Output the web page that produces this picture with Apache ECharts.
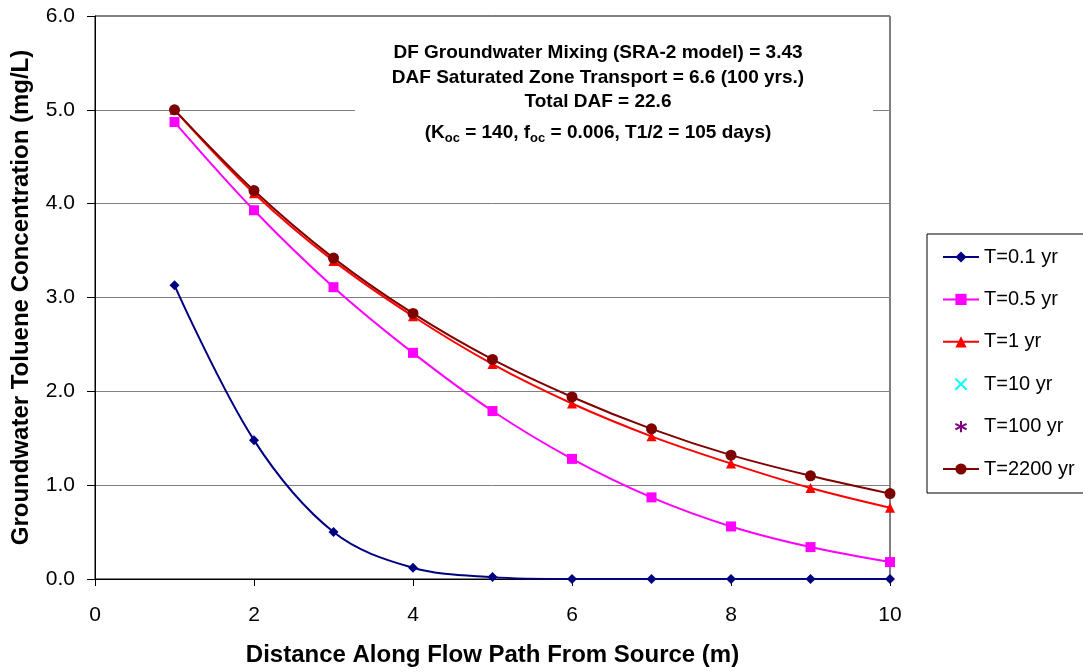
<!DOCTYPE html>
<html>
<head>
<meta charset="utf-8">
<script src="https://cdn.jsdelivr.net/npm/echarts@6/dist/echarts.min.js"></script>
<style>
  html, body { margin: 0; padding: 0; background: #fff; }
  #chart { width: 1083px; height: 672px; }
</style>
</head>
<body>
<div id="chart"></div>
<script>
// Distance along the flow path (m)
const distance = [1, 2, 3, 4, 5, 6, 7, 8, 9, 10];

// Groundwater toluene concentration (mg/L) at each distance, per elapsed time
const t0_1 = [3.13, 1.48, 0.50, 0.12, 0.02, 0.00, 0.00, 0.00, 0.00, 0.00];
const t0_5 = [4.87, 3.93, 3.11, 2.41, 1.79, 1.28, 0.87, 0.56, 0.34, 0.18];
const t1 = [5.00, 4.11, 3.39, 2.80, 2.29, 1.87, 1.52, 1.23, 0.97, 0.76];
const t10 = [5.00, 4.14, 3.42, 2.83, 2.34, 1.94, 1.60, 1.32, 1.10, 0.91];
const t100 = [5.00, 4.14, 3.42, 2.83, 2.34, 1.94, 1.60, 1.32, 1.10, 0.91];
const t2200 = [5.00, 4.14, 3.42, 2.83, 2.34, 1.94, 1.60, 1.32, 1.10, 0.91];

const seriesNames = ['T=0.1 yr', 'T=0.5 yr', 'T=1 yr', 'T=10 yr', 'T=100 yr', 'T=2200 yr'];

const notes = [
  'DF Groundwater Mixing (SRA-2 model) = 3.43',
  'DAF Saturated Zone Transport = 6.6 (100 yrs.)',
  'Total DAF = 22.6'
];

const FONT = '"Liberation Sans", Arial, sans-serif';

function pairs(vals) {
  return distance.map((d, i) => [d, vals[i]]);
}

const crossPath = 'path://M0,0L10,10M10,0L0,10';
const starPath = 'path://M5,0L5,10M0,2.5L10,7.5M10,2.5L0,7.5';

const chart = echarts.init(document.getElementById('chart'), null, { renderer: 'canvas' });

const noteFont = 'bold 19px ' + FONT;

const option = {
  animation: false,
  backgroundColor: '#ffffff',
  textStyle: { fontFamily: FONT },
  grid: {
    left: 95, top: 16, right: 193, bottom: 93,
    show: true, borderColor: '#000000', borderWidth: 1
  },
  legend: {
    orient: 'vertical',
    left: 927, top: 234,
    data: seriesNames,
    itemWidth: 36, itemHeight: 14,
    itemGap: 22.4,
    padding: [13, 80, 14, 15],
    borderColor: '#000000', borderWidth: 1,
    backgroundColor: '#ffffff',
    textStyle: { fontFamily: FONT, fontSize: 20, color: '#000000' }
  },
  xAxis: {
    type: 'value',
    min: 0, max: 10, interval: 2,
    name: 'Distance Along Flow Path From Source (m)',
    nameLocation: 'middle',
    nameGap: 64,
    nameTextStyle: { fontFamily: FONT, fontSize: 24, fontWeight: 'bold', color: '#000000' },
    axisLine: { lineStyle: { color: '#000000', width: 1 } },
    axisTick: { show: true, length: 7, lineStyle: { color: '#000000' } },
    axisLabel: { margin: 26, fontSize: 21, color: '#000000', fontFamily: FONT },
    splitLine: { show: false }
  },
  yAxis: {
    type: 'value',
    min: 0, max: 6, interval: 1,
    name: 'Groundwater Toluene Concentration (mg/L)',
    nameLocation: 'middle',
    nameGap: 62,
    nameTextStyle: { fontFamily: FONT, fontSize: 24, fontWeight: 'bold', color: '#000000' },
    axisLine: { show: true, lineStyle: { color: '#000000', width: 1 } },
    axisTick: { show: true, length: 8, lineStyle: { color: '#000000' } },
    axisLabel: {
      margin: 20, fontSize: 21, color: '#000000', fontFamily: FONT,
      formatter: v => v.toFixed(1)
    },
    splitLine: { show: true, lineStyle: { color: '#808080', width: 1 } }
  },
  graphic: [
    {
      type: 'rect',
      shape: { x: 355, y: 26, width: 518, height: 122 },
      style: { fill: '#ffffff' },
      z: 50
    },
    {
      type: 'text',
      x: 598, y: 53, z: 51,
      style: { text: notes[0], font: noteFont, fill: '#000000', align: 'center', verticalAlign: 'middle' }
    },
    {
      type: 'text',
      x: 598, y: 78, z: 51,
      style: { text: notes[1], font: noteFont, fill: '#000000', align: 'center', verticalAlign: 'middle' }
    },
    {
      type: 'text',
      x: 598, y: 102, z: 51,
      style: { text: notes[2], font: noteFont, fill: '#000000', align: 'center', verticalAlign: 'middle' }
    },
    {
      type: 'text',
      x: 598, y: 130, z: 51,
      style: {
        text: '{n|(K}{s|oc}{n| = 140, f}{s|oc}{n| = 0.006, T1/2 = 105 days)}',
        align: 'center', verticalAlign: 'middle',
        fill: '#000000',
        rich: {
          n: { fontFamily: FONT, fontSize: 19, fontWeight: 'bold', fill: '#000000', lineHeight: 24, verticalAlign: 'bottom' },
          s: { fontFamily: FONT, fontSize: 13, fontWeight: 'bold', fill: '#000000', lineHeight: 24, verticalAlign: 'bottom', padding: [0, 0, -3, 0] }
        }
      }
    }
  ],
  series: [
    {
      name: seriesNames[0], type: 'line', data: pairs(t0_1), smooth: 0.35,
      symbol: 'diamond', symbolSize: 10,
      lineStyle: { color: '#000080', width: 2 },
      itemStyle: { color: '#000080' }, z: 3
    },
    {
      name: seriesNames[1], type: 'line', data: pairs(t0_5), smooth: 0.35,
      symbol: 'rect', symbolSize: 10,
      lineStyle: { color: '#ff00ff', width: 2 },
      itemStyle: { color: '#ff00ff' }, z: 3
    },
    {
      name: seriesNames[2], type: 'line', data: pairs(t1), smooth: 0.35,
      symbol: 'triangle', symbolSize: 10,
      lineStyle: { color: '#ff0000', width: 2 },
      itemStyle: { color: '#ff0000' }, z: 3
    },
    {
      name: seriesNames[3], type: 'line', data: pairs(t10), smooth: 0.35,
      symbol: crossPath, symbolSize: 8,
      lineStyle: { width: 0, color: '#00ffff' },
      itemStyle: { color: 'none', borderColor: '#00ffff', borderWidth: 1.5 }, z: 3
    },
    {
      name: seriesNames[4], type: 'line', data: pairs(t100), smooth: 0.35,
      symbol: starPath, symbolSize: 9,
      lineStyle: { width: 0, color: '#800080' },
      itemStyle: { color: 'none', borderColor: '#800080', borderWidth: 1.5 }, z: 3
    },
    {
      name: seriesNames[5], type: 'line', data: pairs(t2200), smooth: 0.35,
      symbol: 'circle', symbolSize: 11,
      lineStyle: { color: '#800000', width: 2 },
      itemStyle: { color: '#800000' }, z: 4
    }
  ]
};

chart.setOption(option);
</script>
</body>
</html>
